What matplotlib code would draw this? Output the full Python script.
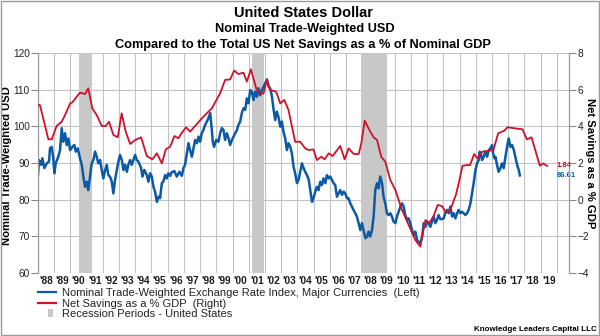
import matplotlib
matplotlib.use("Agg")
import matplotlib.pyplot as plt
from matplotlib.lines import Line2D
from matplotlib.patches import Patch, Rectangle

plt.rcParams['font.family'] = ['Liberation Sans', 'DejaVu Sans']

# ---- data ----
usd_years = [1988.0, 1988.06, 1988.19, 1988.27, 1988.39, 1988.54, 1988.68, 1988.74, 1988.85, 1988.94,
             1989.01, 1989.09, 1989.25, 1989.36, 1989.46, 1989.56, 1989.67, 1989.77, 1989.87, 1989.98,
             1990.12, 1990.24, 1990.33, 1990.45, 1990.59, 1990.70, 1990.80, 1990.90, 1991.01, 1991.10,
             1991.21, 1991.31, 1991.41, 1991.52, 1991.62, 1991.72, 1991.83, 1991.93, 1992.03, 1992.14,
             1992.24, 1992.34, 1992.44, 1992.55, 1992.65, 1992.75, 1992.86, 1992.96, 1993.06, 1993.17,
             1993.27, 1993.37, 1993.48, 1993.57, 1993.68, 1993.78, 1993.88, 1993.99, 1994.09, 1994.19,
             1994.36, 1994.44, 1994.56, 1994.71, 1994.81, 1994.91, 1995.02, 1995.12, 1995.22, 1995.33,
             1995.43, 1995.53, 1995.64, 1995.73, 1995.84, 1995.94, 1996.04, 1996.15, 1996.25, 1996.41,
             1996.56, 1996.72, 1996.87, 1996.97, 1997.07, 1997.18, 1997.28, 1997.38, 1997.49, 1997.59,
             1997.69, 1997.80, 1997.90, 1998.00, 1998.10, 1998.20, 1998.31, 1998.41, 1998.51, 1998.62,
             1998.72, 1998.78, 1998.86, 1998.99, 1999.13, 1999.23, 1999.34, 1999.44, 1999.54, 1999.65,
             1999.75, 1999.85, 1999.96, 2000.06, 2000.16, 2000.27, 2000.36, 2000.47, 2000.57, 2000.67,
             2000.78, 2000.88, 2000.98, 2001.09, 2001.19, 2001.29, 2001.40, 2001.50, 2001.60, 2001.70,
             2001.81, 2001.91, 2002.01, 2002.12, 2002.22, 2002.32, 2002.43, 2002.52, 2002.63, 2002.73,
             2002.83, 2002.94, 2003.04, 2003.14, 2003.25, 2003.35, 2003.45, 2003.56, 2003.66, 2003.76,
             2003.86, 2003.97, 2004.07, 2004.17, 2004.28, 2004.38, 2004.48, 2004.59, 2004.70, 2004.79,
             2004.90, 2004.99, 2005.10, 2005.20, 2005.30, 2005.41, 2005.51, 2005.61, 2005.72, 2005.82,
             2005.92, 2006.02, 2006.13, 2006.23, 2006.33, 2006.44, 2006.54, 2006.64, 2006.75, 2006.85,
             2006.95, 2007.06, 2007.15, 2007.26, 2007.36, 2007.46, 2007.57, 2007.67, 2007.77, 2007.88,
             2007.98, 2008.08, 2008.19, 2008.29, 2008.39, 2008.49, 2008.60, 2008.70, 2008.80, 2008.91,
             2009.01, 2009.11, 2009.22, 2009.31, 2009.42, 2009.52, 2009.62, 2009.73, 2009.83, 2009.93,
             2010.04, 2010.14, 2010.24, 2010.35, 2010.45, 2010.55, 2010.65, 2010.76, 2010.86, 2010.96,
             2011.07, 2011.17, 2011.27, 2011.38, 2011.48, 2011.58, 2011.69, 2011.79, 2011.89, 2012.00,
             2012.09, 2012.20, 2012.30, 2012.40, 2012.51, 2012.61, 2012.71, 2012.81, 2012.91, 2013.02,
             2013.12, 2013.23, 2013.33, 2013.43, 2013.54, 2013.64, 2013.74, 2013.85, 2013.94, 2014.05,
             2014.15, 2014.25, 2014.36, 2014.46, 2014.56, 2014.67, 2014.77, 2014.87, 2014.98, 2015.08,
             2015.18, 2015.24, 2015.33, 2015.39, 2015.49, 2015.59, 2015.70, 2015.80, 2015.90, 2016.01,
             2016.07, 2016.15, 2016.21, 2016.31, 2016.41, 2016.52, 2016.62, 2016.72, 2016.83, 2016.93,
             2017.03, 2017.14, 2017.24, 2017.35, 2017.44, 2017.55, 2017.65, 2017.72]
usd_index = [86.7, 90.8, 89.5, 91.3, 88.6, 89.9, 90.4, 94.0, 94.4, 91.3,
             87.2, 89.9, 91.7, 93.5, 99.5, 95.8, 98.1, 94.9, 96.7, 93.5,
             94.4, 94.9, 93.1, 94.0, 91.3, 89.5, 86.3, 83.5, 84.9, 82.6,
             86.3, 89.9, 90.8, 93.1, 91.7, 89.9, 90.8, 88.1, 85.8, 88.1,
             89.5, 86.7, 86.3, 84.9, 81.7, 85.4, 88.1, 90.4, 92.2, 90.8,
             88.1, 89.5, 87.6, 89.5, 90.8, 89.5, 90.8, 92.2, 90.8, 90.4,
             88.6, 86.3, 88.1, 86.7, 84.9, 87.2, 86.3, 83.5, 82.2, 79.4,
             80.8, 80.4, 84.5, 84.9, 86.7, 85.8, 87.2, 86.5, 87.5, 87.8,
             86.3, 87.6, 86.5, 88.6, 89.5, 92.6, 95.4, 93.5, 91.7, 94.0,
             96.3, 95.4, 97.2, 95.8, 98.1, 99.0, 100.4, 101.3, 102.2, 103.6,
             99.0, 95.8, 94.4, 96.3, 95.8, 98.1, 99.5, 99.0, 96.3, 98.1,
             96.7, 94.9, 96.3, 97.2, 98.1, 99.0, 100.4, 101.3, 103.6, 104.9,
             104.5, 107.6, 106.3, 109.9, 109.5, 107.2, 109.5, 108.1, 110.4, 108.5,
             109.9, 110.8, 111.7, 112.8, 110.8, 110.4, 108.1, 104.9, 101.7, 104.0,
             102.6, 99.9, 101.3, 98.5, 96.7, 93.5, 95.4, 94.4, 92.6, 89.0,
             87.2, 84.5, 85.4, 87.6, 89.9, 88.6, 87.6, 86.7, 85.4, 82.6,
             79.4, 80.4, 82.2, 83.5, 82.6, 84.9, 84.0, 85.8, 84.5, 86.7,
             85.8, 86.3, 85.4, 84.5, 84.0, 80.8, 81.7, 82.6, 81.3, 82.2,
             81.7, 80.4, 80.4, 79.0, 78.1, 77.2, 76.3, 75.4, 73.6, 71.7,
             73.6, 71.7, 69.5, 69.9, 71.3, 69.9, 71.7, 75.4, 82.6, 84.5,
             83.1, 86.3, 84.5, 80.8, 79.0, 76.3, 75.8, 76.3, 75.4, 74.0,
             73.6, 75.4, 76.7, 78.1, 79.0, 78.1, 75.8, 74.5, 74.9, 73.6,
             71.7, 70.4, 71.3, 69.0, 68.5, 68.1, 69.9, 73.6, 72.6, 74.0,
             73.6, 72.6, 74.0, 75.4, 73.6, 74.5, 75.8, 74.7, 74.7, 74.9,
             76.3, 77.2, 76.3, 78.1, 75.4, 76.3, 74.9, 76.3, 77.2, 76.3,
             76.7, 76.3, 75.8, 76.3, 77.2, 79.0, 81.7, 84.5, 88.1, 89.9,
             90.8, 93.1, 92.2, 90.8, 91.7, 93.1, 91.7, 93.5, 94.0, 94.9,
             92.6, 91.3, 91.7, 89.5, 87.6, 88.6, 89.9, 88.6, 91.7, 94.4,
             96.7, 94.4, 94.9, 93.5, 91.7, 89.5, 88.1, 86.61]

sav_years = [1988.0, 1988.12, 1988.64, 1988.85, 1989.15, 1989.46, 1989.67, 1989.98, 1990.12, 1990.39,
             1990.59, 1990.90, 1991.10, 1991.35, 1991.62, 1991.93, 1992.18, 1992.38, 1992.65, 1992.92,
             1993.16, 1993.41, 1993.68, 1993.99, 1994.36, 1994.71, 1995.06, 1995.33, 1995.64, 1995.88,
             1996.15, 1996.41, 1996.66, 1996.87, 1997.14, 1997.38, 1998.20, 1998.72, 1999.23, 1999.54,
             1999.85, 2000.10, 2000.36, 2000.67, 2000.88, 2001.13, 2001.46, 2001.70, 2001.91, 2002.12,
             2002.32, 2002.69, 2002.94, 2003.19, 2003.45, 2003.86, 2004.17, 2004.48, 2004.69, 2004.99,
             2005.20, 2005.47, 2005.68, 2005.93, 2006.17, 2006.64, 2006.91, 2007.16, 2007.47, 2007.78,
             2007.94, 2008.15, 2008.44, 2008.70, 2008.91, 2009.17, 2009.42, 2009.73, 2010.04, 2010.45,
             2010.86, 2011.27, 2011.58, 2011.89, 2012.14, 2012.40, 2012.65, 2012.92, 2013.15, 2013.41,
             2013.77, 2013.97, 2014.18, 2014.49, 2014.65, 2014.90, 2015.10, 2015.41, 2016.09, 2016.38,
             2016.75, 2016.96, 2017.41, 2017.88, 2018.15, 2018.44, 2018.72, 2018.95, 2019.15, 2019.40]
sav_pct = [5.16, 5.16, 3.29, 3.30, 4.02, 4.25, 4.62, 5.25, 5.31, 5.62,
           5.84, 5.76, 6.07, 4.98, 4.62, 4.02, 4.02, 4.25, 3.53, 3.40,
           4.71, 3.71, 3.04, 3.25, 3.40, 2.38, 2.20, 2.53, 1.98, 2.74,
           2.89, 3.47, 3.35, 3.65, 3.95, 3.71, 4.53, 4.98, 5.80, 6.53,
           6.56, 7.04, 6.85, 6.93, 6.44, 7.11, 6.07, 5.76, 5.80, 6.53,
           5.98, 5.89, 5.25, 5.44, 4.89, 3.16, 3.16, 2.80, 2.71, 2.74,
           2.16, 2.34, 2.20, 2.53, 2.38, 2.93, 2.20, 2.80, 2.49, 2.49,
           3.07, 4.31, 3.80, 3.40, 3.25, 2.34, 2.07, 1.07, 0.53, -0.56,
           -1.38, -2.20, -2.56, -1.11, -1.26, -0.89, -0.29, -0.35, -0.71, -0.60,
           0.25, 0.98, 1.84, 1.89, 1.89, 2.49, 2.25, 2.62, 2.71, 3.62,
           3.76, 3.95, 3.89, 3.84, 3.29, 3.40, 2.55, 1.85, 1.98, 1.84]

recessions = [(1990.55, 1991.30), (2001.20, 2001.95), (2007.95, 2009.50)]
year_labels = ["'88", "'89", "'90", "'91", "'92", "'93", "'94", "'95", "'96", "'97", "'98", "'99",
               "'00", "'01", "'02", "'03", "'04", "'05", "'06", "'07", "'08", "'09", "'10", "'11",
               "'12", "'13", "'14", "'15", "'16", "'17", "'18", "'19"]
first_year = 1988
last_usd_label = "86.61"
last_sav_label = "1.84"

BLUE = '#0b5aa5'
RED = '#d2102a'
REC = '#c8c8c8'
GRID = '#c3c3c3'

fig = plt.figure(figsize=(6.0, 3.36), dpi=100)
fig.patch.set_facecolor('white')
fig.add_artist(Rectangle((0.001, 0.002), 0.997, 0.995, transform=fig.transFigure,
                         fill=False, edgecolor='#9a9a9a', linewidth=1.0))

ax = fig.add_axes([38/600, 63/336, 531/600, 220/336])
ax2 = ax.twinx()

for s, e in recessions:
    ax.axvspan(s, e, color=REC, zorder=1, lw=0)

ax.plot(usd_years, usd_index, color=BLUE, lw=1.8, zorder=3, solid_joinstyle='round')
ax2.plot(sav_years, sav_pct, color=RED, lw=1.3, zorder=3)

x0 = first_year
x1 = first_year + len(year_labels) + 0.75
ax.set_xlim(x0, x1)
ax.set_ylim(60, 120)
ax2.set_ylim(-4, 8)

ax.set_yticks(range(60, 121, 10))
ax2.set_yticks(range(-4, 9, 2))
major = [first_year + i for i in range(len(year_labels) + 1)]
ax.set_xticks(major)
ax.set_xticklabels([])
ax.set_xticks([first_year + i + 0.5 for i in range(len(year_labels))], minor=True)
ax.set_xticklabels(year_labels, minor=True, fontsize=7.2, fontweight='bold', color='#1a1a1a')
ax.tick_params(axis='x', which='both', length=0, pad=2)
ax.tick_params(axis='y', length=5, width=0.8, color='#888888', labelsize=7.3, pad=1, labelcolor='#222222')
ax2.tick_params(axis='y', length=5, width=0.8, color='#888888', labelsize=7.3, pad=1, labelcolor='#222222')

ax.grid(True, which='major', axis='both', color=GRID, lw=0.8, zorder=0)
ax.set_axisbelow(True)
for a in (ax, ax2):
    a.spines['top'].set_visible(False)
    a.spines['bottom'].set_visible(False)
    a.spines['left'].set_color('#999999')
    a.spines['right'].set_color('#999999')

ax.set_ylabel('Nominal Trade-Weighted USD', fontsize=8.1, fontweight='bold', va='center')
ax.yaxis.set_label_coords((7 - 38) / 531, 0.49)
ax2.set_ylabel('Net Savings as a % GDP', fontsize=8.1, fontweight='bold', rotation=270, va='center')
ax2.yaxis.set_label_coords((590 - 38) / 531, 0.5)

ax2.annotate(last_sav_label, xy=(1.0, sav_pct[-1]), xycoords=('axes fraction', 'data'),
             xytext=(-9, 0), textcoords='offset points', fontsize=5.5, fontweight='bold',
             color=RED, va='center', ha='left')
ax.annotate(last_usd_label, xy=(1.0, usd_index[-1]), xycoords=('axes fraction', 'data'),
            xytext=(-9, 0), textcoords='offset points', fontsize=5.5, fontweight='bold',
            color=BLUE, va='center', ha='left')

fig.text(0.505, 0.962, 'United States Dollar', ha='center', va='center', fontsize=10.5, fontweight='bold')
fig.text(0.508, 0.915, 'Nominal Trade-Weighted USD', ha='center', va='center', fontsize=9.2, fontweight='bold')
fig.text(0.505, 0.867, 'Compared to the Total US Net Savings as a % of Nominal GDP', ha='center', va='center',
         fontsize=9.2, fontweight='bold')

handles = [Line2D([], [], color=BLUE, lw=1.6),
           Line2D([], [], color=RED, lw=1.6),
           Patch(facecolor=REC, edgecolor='none')]
labels = ['Nominal Trade-Weighted Exchange Rate Index, Major Currencies  (Left)',
          'Net Savings as a % GDP  (Right)',
          'Recession Periods - United States']
leg = fig.legend(handles, labels, loc='upper left', bbox_to_anchor=(38/600, 1 - 288/336), frameon=False,
                 fontsize=8, handlelength=1.6, handleheight=0.7, handletextpad=0.6,
                 labelspacing=0.05, borderaxespad=0, borderpad=0)
for t in leg.get_texts():
    t.set_color('#222222')
leg.legend_handles[2].set_width(4)
leg.legend_handles[2].set_x(7)

fig.text(0.995, 0.018, 'Knowledge Leaders Capital LLC', ha='right', va='center', fontsize=5.8, fontweight='bold')

fig.savefig('out.png', dpi=100)
